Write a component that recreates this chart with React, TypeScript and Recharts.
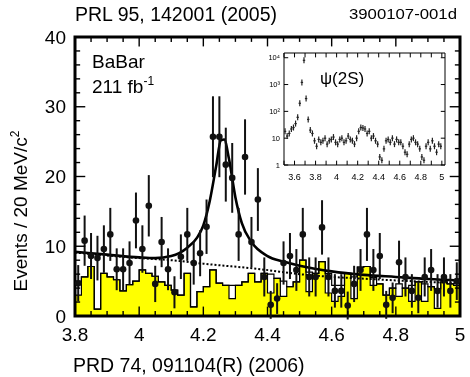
import React from 'react'
import {
  ComposedChart,
  Area,
  Line,
  Scatter,
  ErrorBar,
  XAxis,
  YAxis,
  ReferenceLine,
  ReferenceArea,
} from 'recharts'

const FONT = '"Liberation Sans", Arial, Helvetica, sans-serif'

// 20 MeV bins from 3.8 to 5.0 GeV
const BIN_START = 3.8
const BIN_WIDTH = 0.02

const counts = [
  4.7, 10.8, 8.6, 8.3, 9.6, 11.7, 6.7, 6.7, 7.6, 13.7,
  9.6, 15.8, 4.6, 10.6, 6.7, 3.4, 8.5, 11.7, 7.6, 9.0,
  12.8, 25.7, 25.7, 21.7, 19.8, 11.7, 22.8, 10.6, 16.7, 5.6,
  1.6, 2.5, 7.6, 8.6, 6.6, 11.7, 5.6, 5.6, 12.7, 5.6,
  3.6, 3.6, 1.5, 4.6, 6.6, 11.7, 6.6, 8.6, 1.6, 2.6,
  7.7, 5.6, 3.6, 2.6, 5.6, 6.6, 3.6, 5.6, 3.6, 5.0,
]
const countErrors = [
  2.6, 3.6, 3.3, 3.2, 3.4, 3.8, 3.0, 3.0, 3.1, 4.0,
  3.4, 4.4, 2.6, 3.6, 3.0, 2.3, 3.2, 3.8, 3.1, 3.3,
  3.9, 5.8, 5.8, 5.3, 5.0, 3.8, 5.4, 3.6, 4.5, 2.8,
  2.0, 2.2, 3.1, 3.3, 3.0, 3.8, 2.8, 2.8, 3.9, 2.8,
  2.4, 2.4, 2.0, 2.6, 3.0, 3.8, 3.0, 3.3, 2.0, 2.2,
  3.1, 2.8, 2.4, 2.2, 2.8, 3.0, 2.4, 2.8, 2.4, 2.7,
]
// J/psi sideband (shaded)
const sidebandFilled = [
  3.0, 5.6, 7.1, 1.0, 6.1, 5.6, 5.2, 3.6, 4.5, 5.0,
  6.6, 6.1, 5.7, 4.9, 4.4, 3.7, 3.0, 6.1, 1.3, 3.5,
  4.2, 6.6, 4.7, 4.4, 2.5, 4.4, 4.9, 6.1, 4.9, 6.1,
  3.3, 5.4, 2.8, 4.2, 4.9, 8.0, 3.5, 6.1, 7.8, 3.3,
  2.1, 2.8, 6.1, 2.5, 7.0, 7.1, 4.4, 4.6, 3.0, 4.0,
  2.8, 4.0, 2.1, 4.9, 2.1, 4.2, 1.1, 4.9, 4.6, 4.4,
]
// open histogram
const sidebandOpen = [
  5.0, 5.6, 7.1, 1.0, 6.1, 5.6, 5.2, 3.6, 4.5, 5.0,
  6.6, 6.1, 5.7, 4.9, 4.4, 3.7, 3.0, 6.1, 1.3, 3.5,
  4.2, 6.6, 4.7, 4.4, 4.4, 4.4, 4.9, 6.1, 4.9, 6.1,
  6.0, 5.4, 5.0, 4.2, 4.9, 8.0, 6.3, 6.1, 7.8, 6.1,
  4.4, 4.4, 6.1, 5.6, 7.0, 7.1, 5.5, 4.6, 3.0, 4.0,
  4.6, 4.0, 4.4, 4.9, 4.6, 4.2, 3.9, 4.9, 4.6, 4.4,
]

// fit curves
const fitMass = [3.8, 3.9, 4.0, 4.05, 4.1, 4.15, 4.18, 4.2, 4.22, 4.24, 4.255, 4.265, 4.28, 4.3, 4.32, 4.35, 4.4, 4.45, 4.5, 4.6, 4.7, 4.8, 4.9, 5.0]
const fitTotal = [9.2, 8.8, 8.4, 8.3, 8.6, 9.8, 11.2, 13.0, 16.5, 21.5, 25.2, 25.3, 22.5, 17.0, 13.3, 10.6, 8.6, 7.8, 7.2, 6.4, 5.9, 5.6, 5.3, 5.1]
const bkgMass = [3.8, 4.0, 4.1, 4.2, 4.38, 4.5, 4.76, 5.0]
const bkgFit = [9.1, 8.3, 8.0, 7.5, 6.7, 6.0, 5.2, 4.7]

const xTickLabels = [3.8, 4, 4.2, 4.4, 4.6, 4.8, 5]
const yTickLabels = [0, 10, 20, 30, 40]

// inset: psi(2S) region, log scale, 20 MeV bins from 3.5
const INSET_START = 3.5
const insetCounts = [
  18, 12, 15, 22, 25, 35, 60, 200, 1200, 8000,
  300, 50, 20, 15, 8, 5, 9, 7, 8, 10,
  6, 8, 9, 11, 7, 6, 9, 10, 7, 8,
  12, 9, 8, 6, 10, 18, 25, 24, 22, 15,
  18, 10, 12, 8, 6, 2, 1.5, 4, 8, 9,
  7, 10, 6, 9, 7, 7, 5, 3, 2.5, 6,
  9, 10, 7, 6, 4, 2, 1.5, 5, 7, 4,
  8, 5, 3, 6, 5,
]
const insetXTicks = [3.6, 3.8, 4, 4.2, 4.4, 4.6, 4.8, 5]
const insetYTicks = [1, 10, 100, 1000, 10000]
const insetYLabels = ['1', '10', '10²', '10³', '10⁴']

const points = counts.map((y, i) => ({ x: BIN_START + BIN_WIDTH * (i + 0.5), y, e: countErrors[i] }))
const toSteps = (vals: number[]) => [
  ...vals.map((y, i) => ({ x: BIN_START + BIN_WIDTH * i, y })),
  { x: 5, y: vals[vals.length - 1] },
]
const filledSteps = toSteps(sidebandFilled)
const openSteps = toSteps(sidebandOpen)
const fitCurve = fitMass.map((x, i) => ({ x, y: fitTotal[i] }))
const bkgCurve = bkgMass.map((x, i) => ({ x, y: bkgFit[i] }))
const insetPoints = insetCounts.map((y, i) => ({ x: INSET_START + BIN_WIDTH * (i + 0.5), y }))

// tick mark positions
const xMinor = Array.from({ length: 25 }, (_, i) => 3.8 + 0.05 * i)
const yMinor = Array.from({ length: 21 }, (_, i) => 2 * i)
const insetXMinor = Array.from({ length: 16 }, (_, i) => 3.5 + 0.1 * i)

const DataDot = (props: any) => <circle cx={props.cx} cy={props.cy} r={3.3} fill="#111" />
const InsetMark = (props: any) => (
  <g>
    <line x1={props.cx} x2={props.cx} y1={props.cy - 3} y2={props.cy + 3} stroke="#222" strokeWidth={1.2} />
    <line x1={props.cx - 1.2} x2={props.cx + 1.2} y1={props.cy} y2={props.cy} stroke="#222" strokeWidth={1.2} />
  </g>
)

function MainChart() {
  const tickStyle = { fill: '#000', fontSize: 19, fontFamily: FONT }
  return (
    <ComposedChart width={462} height={369} margin={{ top: 29, right: 10, bottom: 0, left: 0 }}>
      <XAxis
        dataKey="x"
        type="number"
        domain={[3.8, 5]}
        ticks={xTickLabels}
        interval={0}
        allowDataOverflow
        height={61}
        tickLine={false}
        axisLine={false}
        tickSize={6}
        tickMargin={6}
        tick={tickStyle}
      />
      <YAxis
        dataKey="y"
        type="number"
        domain={[0, 40]}
        ticks={yTickLabels}
        interval={0}
        allowDataOverflow
        width={67}
        tickLine={false}
        axisLine={false}
        tickSize={6}
        tickMargin={3}
        tick={tickStyle}
      />
      <Area
        data={filledSteps}
        dataKey="y"
        type="stepAfter"
        baseValue={0}
        fill="#ffff00"
        fillOpacity={1}
        stroke="#000"
        strokeWidth={1.2}
        isAnimationActive={false}
      />
      <Line data={openSteps} dataKey="y" type="stepAfter" stroke="#000" strokeWidth={1.2} dot={false} isAnimationActive={false} />
      <Line data={bkgCurve} dataKey="y" type="monotone" stroke="#000" strokeWidth={2} strokeDasharray="2 2" dot={false} isAnimationActive={false} />
      <Line data={fitCurve} dataKey="y" type="monotone" stroke="#000" strokeWidth={2.6} dot={false} isAnimationActive={false} />
      <Scatter data={points} dataKey="y" shape={DataDot} isAnimationActive={false}>
        <ErrorBar dataKey="e" direction="y" width={0} stroke="#111" strokeWidth={2} />
      </Scatter>

      {xMinor.map((x) => {
        const major = Math.abs((x - 3.8) / 0.2 - Math.round((x - 3.8) / 0.2)) < 1e-6
        const len = major ? 1.35 : 0.7
        return (
          <React.Fragment key={`xt${x}`}>
            <ReferenceLine segment={[{ x, y: 0 }, { x, y: len }]} stroke="#000" strokeWidth={1.4} />
            <ReferenceLine segment={[{ x, y: 40 }, { x, y: 40 - len }]} stroke="#000" strokeWidth={1.4} />
          </React.Fragment>
        )
      })}
      {yMinor.map((y) => {
        const len = y % 10 === 0 ? 0.032 : 0.016
        return (
          <React.Fragment key={`yt${y}`}>
            <ReferenceLine segment={[{ x: 3.8, y }, { x: 3.8 + len, y }]} stroke="#000" strokeWidth={1.4} />
            <ReferenceLine segment={[{ x: 5, y }, { x: 5 - len, y }]} stroke="#000" strokeWidth={1.4} />
          </React.Fragment>
        )
      })}
      <ReferenceArea x1={3.8} x2={5} y1={0} y2={40} fill="none" stroke="#000" strokeWidth={3} ifOverflow="visible" />
    </ComposedChart>
  )
}

function InsetChart() {
  return (
    <ComposedChart width={190} height={135} margin={{ top: 5, right: 7, bottom: 0, left: 0 }}>
      <XAxis
        dataKey="x"
        type="number"
        domain={[3.5, 5.03]}
        ticks={insetXTicks}
        interval={0}
        allowDataOverflow
        height={18}
        tickLine={false}
        axisLine={false}
        tickSize={6}
        tickMargin={3}
        tick={{ fill: '#000', fontSize: 9, fontFamily: FONT }}
      />
      <YAxis
        dataKey="y"
        type="number"
        scale="log"
        domain={[1, 15000]}
        ticks={insetYTicks}
        interval={0}
        allowDataOverflow
        width={22}
        tickLine={false}
        axisLine={false}
        tickSize={2}
        tickMargin={2}
        tickFormatter={(v: number) => insetYLabels[insetYTicks.indexOf(v)] ?? String(v)}
        tick={{ fill: '#000', fontSize: 7.5, fontFamily: FONT }}
      />
      <Scatter data={insetPoints} dataKey="y" shape={InsetMark} isAnimationActive={false} />
      {insetXMinor.map((x) => (
        <React.Fragment key={`ixt${x}`}>
          <ReferenceLine segment={[{ x, y: 1 }, { x, y: 1.45 }]} stroke="#000" strokeWidth={1} />
          <ReferenceLine segment={[{ x, y: 15000 }, { x, y: 10300 }]} stroke="#000" strokeWidth={1} />
        </React.Fragment>
      ))}
      {insetYTicks.map((y) => (
        <React.Fragment key={`iyt${y}`}>
          <ReferenceLine segment={[{ x: 3.5, y }, { x: 3.54, y }]} stroke="#000" strokeWidth={1} />
          <ReferenceLine segment={[{ x: 5.03, y }, { x: 4.99, y }]} stroke="#000" strokeWidth={1} />
        </React.Fragment>
      ))}
      <ReferenceArea x1={3.5} x2={5.03} y1={1} y2={15000} fill="none" stroke="#000" strokeWidth={1} ifOverflow="visible" />
    </ComposedChart>
  )
}

export default function App() {
  return (
    <div style={{ position: 'fixed', left: 8, top: 8, width: 462, height: 369, fontFamily: FONT }}>
      <style>{'svg { overflow: visible; }'}</style>
      <MainChart />
      <div style={{ position: 'absolute', left: 254, top: 40 }}>
        <InsetChart />
      </div>
      <svg width={462} height={369} style={{ position: 'absolute', left: 0, top: 0, pointerEvents: 'none' }}>
        <text x={67} y={13} fontSize={19.5} fontFamily={FONT} fill="#000">PRL 95, 142001 (2005)</text>
        <text x={341} y={11} fontSize={14.5} fontFamily={FONT} fill="#000" textLength={108} lengthAdjust="spacingAndGlyphs">3900107-001d</text>
        <text x={84} y={60} fontSize={19} fontFamily={FONT} fill="#000">BaBar</text>
        <text x={84} y={85} fontSize={19} fontFamily={FONT} fill="#000">
          211 fb<tspan fontSize={12} dy={-8}>-1</tspan>
        </text>
        <text x={312} y={76} fontSize={17} fontFamily={FONT} fill="#000">ψ(2S)</text>
        <text x={65} y={364} fontSize={19.5} fontFamily={FONT} fill="#000">PRD 74, 091104(R) (2006)</text>
        <text x={19} y={203} fontSize={19} fontFamily={FONT} fill="#000" textAnchor="middle" transform="rotate(-90 19 203)">
          Events / 20 MeV/c<tspan fontSize={12} dy={-8}>2</tspan>
        </text>
      </svg>
    </div>
  )
}
